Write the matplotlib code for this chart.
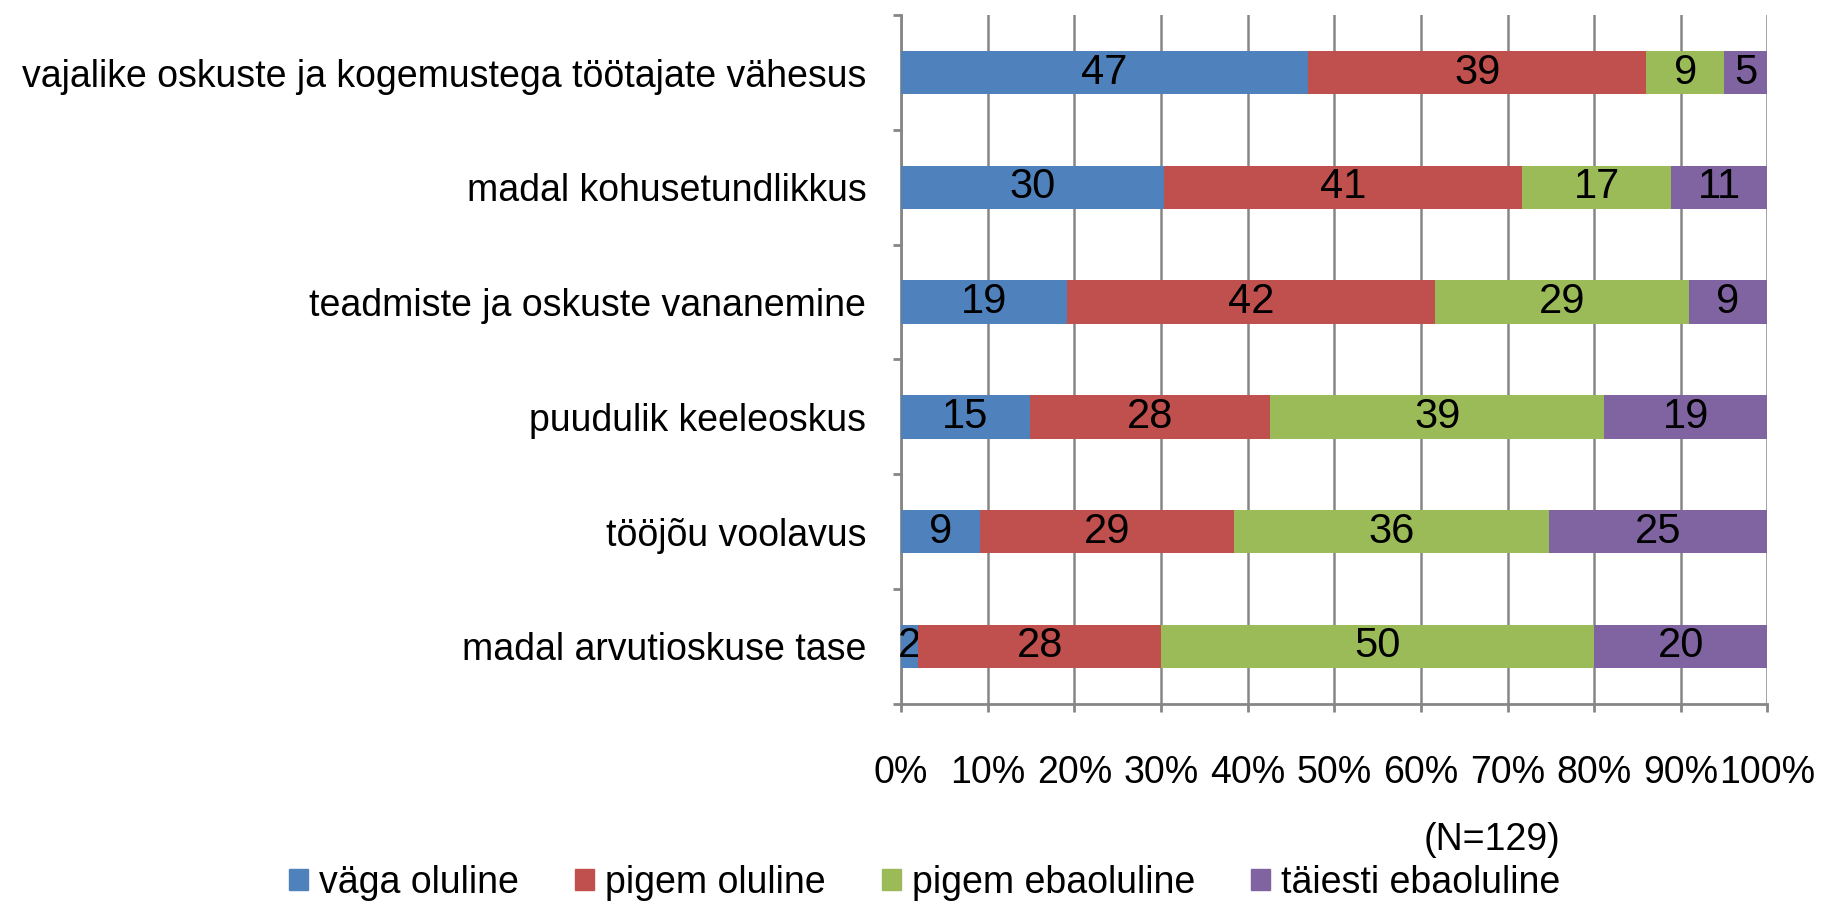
import matplotlib
matplotlib.use("Agg")
import matplotlib.pyplot as plt
import numpy as np
from matplotlib.patches import Patch

plt.rcParams["font.family"] = ["Liberation Sans Narrow", "Liberation Sans", "DejaVu Sans"]

categories = [
    "vajalike oskuste ja kogemustega töötajate vähesus",
    "madal kohusetundlikkus",
    "teadmiste ja oskuste vananemine",
    "puudulik keeleoskus",
    "tööjõu voolavus",
    "madal arvutioskuse tase",
]
series_names = ["väga oluline", "pigem oluline", "pigem ebaoluline", "täiesti ebaoluline"]
vaga_oluline = [47, 30, 19, 15, 9, 2]
pigem_oluline = [39, 41, 42, 28, 29, 28]
pigem_ebaoluline = [9, 17, 29, 39, 36, 50]
taiesti_ebaoluline = [5, 11, 9, 19, 25, 20]
colors = ["#4F81BD", "#C0504D", "#9BBB59", "#8064A2"]
xticks = np.arange(0, 101, 10)
note = "(N=129)"

values = np.array([vaga_oluline, pigem_oluline, pigem_ebaoluline, taiesti_ebaoluline], dtype=float)
shares = values / values.sum(axis=0) * 100

fs = 27

fig = plt.figure(figsize=(18.24, 9.01), dpi=100)
ax = fig.add_axes([0.494, 0.219, 0.475, 0.764])

y = np.arange(len(categories))[::-1]
left = np.zeros(len(categories))
for i in range(4):
    bars = ax.barh(y, shares[i], left=left, height=0.38, color=colors[i], zorder=3)
    ax.bar_label(bars, labels=[f"{int(v)}" for v in values[i]], label_type="center",
                 fontsize=30, color="black")
    left += shares[i]

ax.set_xlim(0, 100)
ax.set_ylim(-0.5, len(categories) - 0.5)
ax.set_xticks(xticks)
ax.set_xticklabels([f"{t}%" for t in xticks], fontsize=fs)
ax.set_yticks(y)
ax.set_yticklabels(categories, fontsize=fs)
ax.set_yticks(np.arange(-0.5, len(categories)), minor=True)

ax.tick_params(axis="y", which="major", length=0, pad=25)
ax.tick_params(axis="y", which="minor", length=6, width=2, color="#868686")
ax.tick_params(axis="x", length=6, width=2, color="#868686", pad=31)

ax.grid(axis="x", color="#868686", linewidth=1.8, zorder=0)
for s in ["top", "right"]:
    ax.spines[s].set_visible(False)
for s in ["left", "bottom"]:
    ax.spines[s].set_color("#868686")
    ax.spines[s].set_linewidth(2)

handles = [Patch(facecolor=c, edgecolor=c) for c in colors]
fig.legend(handles, series_names, loc="center", bbox_to_anchor=(0.507, 0.02), ncol=4,
           frameon=False, fontsize=fs, handlelength=0.5, handleheight=0.5,
           handletextpad=0.3, columnspacing=1.5, borderpad=0)
fig.text(0.818, 0.068, note, fontsize=fs, ha="center", va="center")

fig.savefig("out.png", dpi=100)
